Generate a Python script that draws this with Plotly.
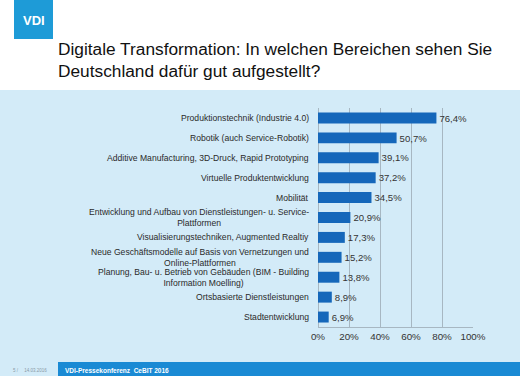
import plotly.graph_objects as go

categories = [
    "Produktionstechnik (Industrie 4.0)",
    "Robotik (auch Service-Robotik)",
    "Additive Manufacturing, 3D-Druck, Rapid Prototyping",
    "Virtuelle Produktentwicklung",
    "Mobilität",
    "Entwicklung und Aufbau von Dienstleistungen- u. Service-<br>Plattformen",
    "Visualisierungstechniken, Augmented Realtiy",
    "Neue Geschäftsmodelle auf Basis von Vernetzungen und<br>Online-Plattformen",
    "Planung, Bau- u. Betrieb von Gebäuden (BIM - Building<br>Information Moelling)",
    "Ortsbasierte Dienstleistungen",
    "Stadtentwicklung",
]
values = [76.4, 50.7, 39.1, 37.2, 34.5, 20.9, 17.3, 15.2, 13.8, 8.9, 6.9]
tick_values = [0, 20, 40, 60, 80, 100]
tick_labels = ["0%", "20%", "40%", "60%", "80%", "100%"]

W, H = 520, 376
L, R, T, B = 318, 47, 108, 49
PW, PH = W - L - R, H - T - B


def px(X):
    return (X - L) / PW


def py(Y):
    return (H - B - Y) / PH


FONT = "Liberation Sans, Arial"

fig = go.Figure()
fig.add_trace(go.Bar(
    x=values,
    y=categories,
    orientation="h",
    marker=dict(color="#1567BA", line=dict(width=0)),
    texttemplate="%{x:.1f}%",
    textposition="outside",
    textfont=dict(family=FONT, size=10.5, color="#333333"),
    cliponaxis=False,
    hoverinfo="skip",
))

shapes = [
    dict(type="rect", xref="paper", yref="paper", x0=px(0), x1=px(W), y0=py(90), y1=py(H),
         fillcolor="#D3EBF8", line=dict(width=0), layer="below"),
    dict(type="rect", xref="paper", yref="paper", x0=px(58), x1=px(W), y0=py(362), y1=py(H),
         fillcolor="#1A8AD4", line=dict(width=0), layer="below"),
    dict(type="rect", xref="paper", yref="paper", x0=px(14), x1=px(53), y0=py(0), y1=py(39),
         fillcolor="#1E9BD7", line=dict(width=0), layer="below"),
]

annotations = [
    dict(text="<b>VDI</b>", xref="paper", yref="paper", x=px(34), y=py(21),
         xanchor="center", yanchor="middle", showarrow=False,
         font=dict(family=FONT, size=13, color="white")),
    dict(text="Digitale Transformation: In welchen Bereichen sehen Sie<br>Deutschland dafür gut aufgestellt?",
         xref="paper", yref="paper", x=px(56), y=py(60), xanchor="left", yanchor="middle",
         align="left", showarrow=False,
         font=dict(family=FONT, size=17.3, color="#111111")),
    dict(text="<b>VDI-Pressekonferenz  CeBIT 2016</b>", xref="paper", yref="paper",
         x=px(63), y=py(370), xanchor="left", yanchor="middle", showarrow=False,
         font=dict(family=FONT, size=6.5, color="white")),
    dict(text="5 /     14.03.2016", xref="paper", yref="paper",
         x=px(11), y=py(370), xanchor="left", yanchor="middle", showarrow=False,
         font=dict(family=FONT, size=4.5, color="#8A9AA6")),
]

for cat in categories:
    annotations.append(dict(
        text=cat, xref="paper", yref="y", x=px(311), y=cat,
        xanchor="right", yanchor="middle", align="center", showarrow=False,
        font=dict(family=FONT, size=8.6, color="#2A2A2A"),
    ))

fig.update_layout(
    width=W, height=H,
    margin=dict(l=L, r=R, t=T, b=B, pad=0),
    paper_bgcolor="white",
    plot_bgcolor="rgba(0,0,0,0)",
    separators=", ",
    showlegend=False,
    bargap=0.45,
    shapes=shapes,
    annotations=annotations,
    xaxis=dict(
        range=[0, 100], tickvals=tick_values, ticktext=tick_labels,
        showgrid=True, gridcolor="#A7B7C2", gridwidth=1,
        zeroline=True, zerolinecolor="#A7B7C2", zerolinewidth=1,
        showline=True, linecolor="#A7B7C2", linewidth=1,
        ticks="", fixedrange=True,
        tickfont=dict(family=FONT, size=9.8, color="#333333"),
    ),
    yaxis=dict(
        autorange="reversed", showticklabels=False, showgrid=False,
        zeroline=False, showline=False, ticks="", fixedrange=True,
    ),
)

fig.write_html(
    "out.html",
    config={"displayModeBar": False},
    post_script="document.body.style.margin='0';document.body.style.padding='0';",
)
